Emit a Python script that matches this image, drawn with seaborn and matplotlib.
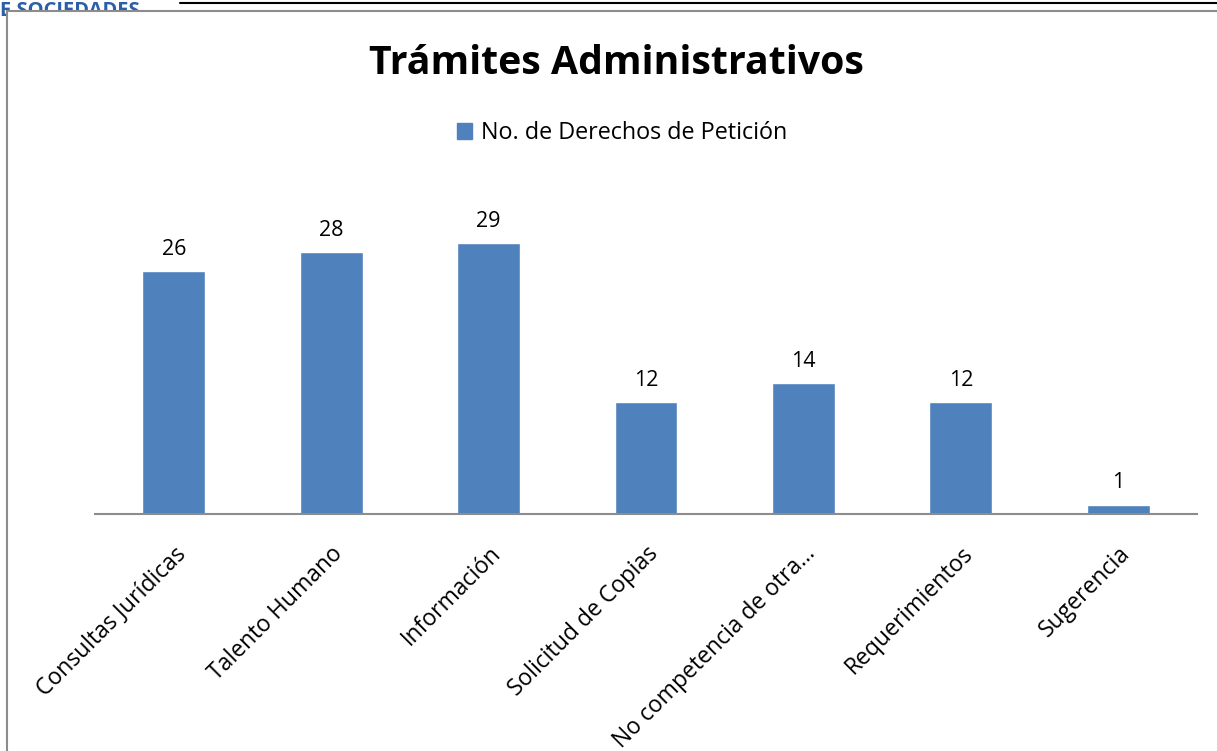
import seaborn as sns
import matplotlib.pyplot as plt
from matplotlib.patches import Rectangle
from matplotlib.lines import Line2D
import pandas as pd

categorias = ['Consultas Jurídicas', 'Talento Humano', 'Información', 'Solicitud de Copias',
              'No competencia de otra...', 'Requerimientos', 'Sugerencia']
valores = [26, 28, 29, 12, 14, 12, 1]
serie = 'No. de Derechos de Petición'

df = pd.DataFrame({'categoria': categorias, 'valor': valores})

sns.set_style('white')
plt.rcParams['font.family'] = ['Open Sans', 'DejaVu Sans']
plt.rcParams['text.color'] = 'black'
plt.rcParams['xtick.color'] = 'black'

W, H = 1217, 751
fig = plt.figure(figsize=(W / 100, H / 100), dpi=100)

# piece of page header peeking above the chart box
fig.text(0, 1 - 1 / H, 'E SOCIEDADES', color='#2b5fa8', fontsize=14.5, fontweight='bold',
         va='top', ha='left', zorder=-3)
fig.add_artist(Line2D([180 / W, 1], [1 - 2.5 / H, 1 - 2.5 / H], color='black', lw=1.5, zorder=-2))
fig.add_artist(Rectangle((7 / W, -0.01), 1, 1 - 11 / H + 0.01, transform=fig.transFigure,
                         facecolor='white', edgecolor='#8c8c8c', lw=1.5, zorder=-1))

ax = fig.add_axes([95 / W, 1 - 514 / H, (1197 - 95) / W, 330 / H])
ax.patch.set_visible(False)
sns.barplot(data=df, x='categoria', y='valor', color='#4f81bd', width=0.4,
            saturation=1, ax=ax)
ax.set_ylim(0, 330 / 9.35)
ax.set_xlim(-0.5, len(categorias) - 0.5)

for i, v in enumerate(valores):
    ax.text(i, v + 1.2, str(v), ha='center', va='bottom', fontsize=15.5, color='black', clip_on=False)

for s in ['top', 'right', 'left']:
    ax.spines[s].set_visible(False)
ax.spines['bottom'].set_color('#8c8c8c')
ax.spines['bottom'].set_linewidth(1.5)
ax.set_yticks([])
ax.set_xlabel('')
ax.set_ylabel('')
ax.tick_params(axis='x', length=0, pad=20)
ax.set_xticks(range(len(categorias)))
ax.set_xticklabels(categorias, rotation=45, ha='right', rotation_mode='anchor', fontsize=16.5)

fig.text(616 / W, 1 - 64 / H, 'Trámites Administrativos', ha='center', va='center',
         fontsize=28.3, fontweight='bold')
fig.legend(handles=[Rectangle((0, 0), 1, 1, color='#4f81bd')], labels=[serie],
           loc='center', bbox_to_anchor=(622 / W, 1 - 133 / H), frameon=False, fontsize=16.8,
           handlelength=0.65, handleheight=0.65, handletextpad=0.4)

fig.savefig('out.png', dpi=100)
